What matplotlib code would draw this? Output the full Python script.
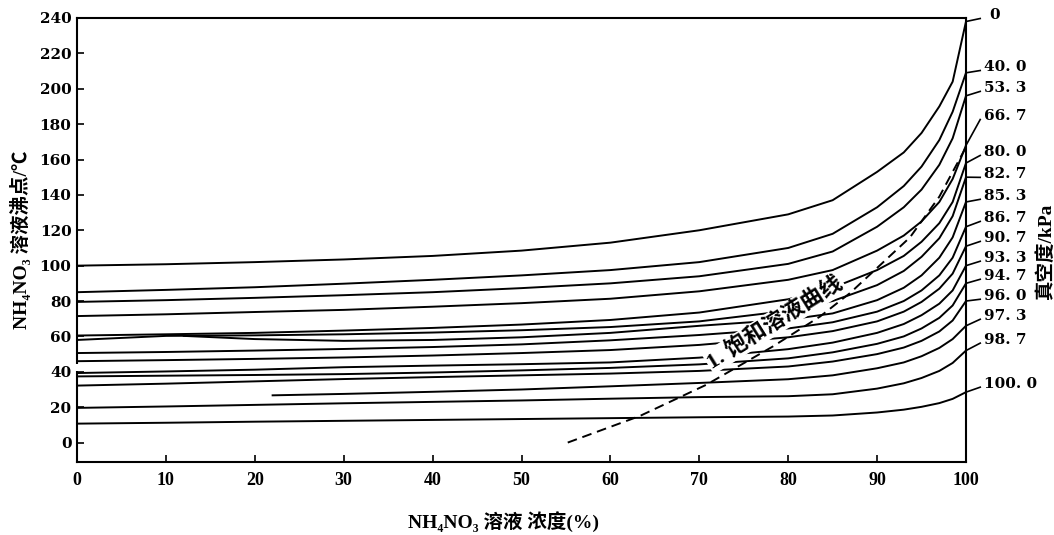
import matplotlib
matplotlib.use('Agg')
import matplotlib.pyplot as plt

# NH4NO3 solution boiling point vs concentration, one curve per vacuum level (kPa)
conc = [0, 10, 20, 30, 40, 50, 60, 70, 80, 85, 90, 93, 95, 97, 98.5, 100]
conc_853 = [12, 20, 30, 40, 50, 60, 70, 80, 85, 90, 93, 95, 97, 98.5, 100]
conc_973 = [22, 30, 40, 50, 60, 70, 80, 85, 90, 93, 95, 97, 98.5, 100]

bp_0 = [100, 100.8, 102, 103.5, 105.5, 108.5, 113, 120, 129, 137, 153, 164, 175, 190, 204, 238]
bp_400 = [85, 86.3, 87.8, 89.8, 92, 94.5, 97.5, 102, 110, 118, 133, 145, 156, 171, 187, 209]
bp_533 = [79.5, 80.5, 81.8, 83.3, 85, 87.3, 90, 94, 101, 108, 122, 133, 143, 157, 172, 196]
bp_667 = [71.5, 72.5, 73.8, 75, 76.8, 78.8, 81.3, 85.5, 92, 97.5, 108.5, 117, 125, 136, 149, 168]
bp_800 = [60.5, 61.2, 62, 63.3, 64.8, 66.7, 69.3, 73.5, 81, 87.5, 97.5, 105.5, 113.5, 124, 136, 158]
bp_827 = [58, 60.3, 60.6, 61.2, 62.2, 63.5, 65.3, 68.5, 74.5, 80, 89, 97, 105, 115.5, 128, 150]
bp_853 = [60.3, 58.5, 57.5, 58, 59.5, 62, 66, 69.5, 73, 80.5, 87.5, 94.5, 104.5, 116, 136]
bp_867 = [50.6, 51.2, 52, 52.9, 54, 55.5, 57.8, 60.8, 64.5, 68, 74, 80, 86, 94.5, 104.5, 122]
bp_907 = [46, 46.6, 47.3, 48.1, 49.2, 50.6, 52.3, 55.2, 59.5, 63, 68.5, 74, 79.5, 87, 95.5, 111]
bp_933 = [39.3, 40.2, 41.2, 42.6, 43.5, 44.3, 45.3, 48, 52.8, 56.5, 62, 67, 72, 78.5, 86, 100]
bp_947 = [37.4, 37.8, 38.2, 38.7, 39.6, 40.8, 42.2, 44.2, 47.6, 51, 55.8, 60, 64.5, 70.5, 77.5, 90]
bp_960 = [32.2, 33.3, 34.6, 35.9, 37, 38, 39, 40.5, 43, 45.8, 50, 53.7, 57.5, 62.8, 69, 80]
bp_973 = [26.7, 27.5, 28.7, 30, 31.8, 33.7, 35.8, 38, 42, 45.3, 48.8, 53.5, 58.5, 66]
bp_987 = [19.6, 20.4, 21.3, 22.2, 23, 23.8, 24.8, 25.7, 26.2, 27.3, 30.5, 33.5, 36.5, 40.5, 45, 52]
bp_1000 = [10.7, 11.2, 11.8, 12.3, 12.8, 13.3, 13.8, 14.3, 14.7, 15.3, 17, 18.6, 20.2, 22.3, 24.7, 28.5]

# saturated solution curve
sat_conc = [55.2, 63.3, 70.8, 78.3, 83.6, 87, 93.7, 97, 100]
sat_bp = [0, 15, 32.7, 54.4, 71.3, 84.7, 116, 139, 167]

vac_labels = ['0', '40. 0', '53. 3', '66. 7', '80. 0', '82. 7', '85. 3', '86. 7',
              '90. 7', '93. 3', '94. 7', '96. 0', '97. 3', '98. 7', '100. 0']
vac_label_y = [241.7, 212.3, 200.5, 184.6, 164.3, 151.9, 139.5, 127, 115.7,
               104.5, 94.3, 83, 71.7, 58.2, 33.3]

curves = [(conc, bp_0), (conc, bp_400), (conc, bp_533), (conc, bp_667),
          (conc, bp_800), (conc, bp_827), (conc_853, bp_853), (conc, bp_867),
          (conc, bp_907), (conc, bp_933), (conc, bp_947), (conc, bp_960),
          (conc_973, bp_973), (conc, bp_987), (conc, bp_1000)]

num_font = ['DejaVu Serif', 'Noto Sans CJK SC']
lab_font = ['Liberation Serif', 'Noto Sans CJK SC', 'DejaVu Serif']

fig = plt.figure(figsize=(10.54, 5.35), dpi=100)
ax = fig.add_axes([0.0731, 0.1364, 0.8434, 0.8300])

for xs, ys in curves:
    ax.plot(xs, ys, color='black', lw=1.4, zorder=2)

ax.plot(sat_conc, sat_bp, color='black', lw=1.4, linestyle=(0, (5, 3)), zorder=4)
ax.text(78.5, 68.0, '1. 饱和溶液曲线', rotation=32, rotation_mode='anchor',
        ha='center', va='center', fontsize=16, fontweight='bold',
        family=lab_font, zorder=3,
        bbox=dict(facecolor='white', edgecolor='none', pad=1.0))

# labels of vacuum degree on the right side
for (xs, ys), lab, ly in zip(curves, vac_labels, vac_label_y):
    ax.plot([100, 101.6], [ys[-1], ly - 2], color='black', lw=1.2, clip_on=False)
    ax.text(102.0 if lab != '0' else 102.6, ly, lab, ha='left', va='center',
            fontsize=11, fontweight='bold', family=num_font)

ax.set_xlim(0, 100)
ax.set_ylim(-11, 240)
ax.set_xticks(range(0, 101, 10))
ax.set_yticks(range(0, 241, 20))
ax.tick_params(direction='in', length=5, width=1.2)
ax.tick_params(axis='x', pad=7)
ax.tick_params(axis='y', pad=4)
for lbl in ax.get_xticklabels():
    lbl.set_family(lab_font)
    lbl.set_fontweight('bold')
    lbl.set_fontsize(13)
for lbl in ax.get_yticklabels():
    lbl.set_family(num_font)
    lbl.set_fontweight('bold')
    lbl.set_fontsize(11)

for sp in ax.spines.values():
    sp.set_linewidth(1.5)
# small break in the temperature axis
ax.plot([0, 0], [40.6, 44.4], color='white', lw=4, solid_capstyle='butt',
        clip_on=False, zorder=10)

fig.text(20 / 1054, 1 - 240 / 535, 'NH₄NO₃ 溶液沸点/℃', rotation=90,
         ha='center', va='center', fontsize=14, fontweight='bold', family=lab_font)
fig.text(503 / 1054, 1 - 522 / 535, 'NH₄NO₃ 溶液 浓度(%)', ha='center', va='center',
         fontsize=14, fontweight='bold', family=lab_font)
fig.text(1046 / 1054, 1 - 252 / 535, '真空度/kPa', rotation=90,
         ha='center', va='center', fontsize=14, fontweight='bold', family=lab_font)

fig.savefig('out.png', dpi=100, facecolor='white')
